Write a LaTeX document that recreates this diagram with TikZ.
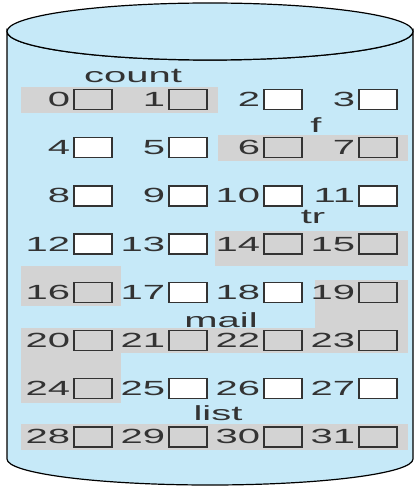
\documentclass[tikz,border=0pt]{standalone}
\usepackage{fontspec}
\setmainfont[FakeStretch=1.95]{Liberation Sans}
\definecolor{cylblue}{RGB}{198,233,248}
\definecolor{blkgray}{RGB}{211,211,211}
\definecolor{ink}{RGB}{51,51,51}
\tikzset{
  blk/.style={draw=ink, line width=1.3pt, minimum width=38pt, minimum height=20pt, inner sep=0pt},
  num/.style={text=ink, inner sep=0pt, font=\fontsize{20.5}{24}\selectfont},
  lbl/.style={text=ink, inner sep=0pt, font=\fontsize{20.5}{24}\selectfont, anchor=base},
  cyl/.style={draw=black, line width=1.2pt, fill=cylblue}
}
\begin{document}
\begin{tikzpicture}[x=1pt,y=-1pt]
\useasboundingbox (0,0) rectangle (416,486);
% cylinder body
\path[cyl] (7,31.5) -- (7,459) arc[start angle=180, end angle=0, x radius=203, y radius=26]
  -- (413,31.5) arc[start angle=0, end angle=180, x radius=203, y radius=28.5] -- cycle;
\path[cyl] (210,31.5) ellipse[x radius=203, y radius=28.5];
% allocated regions
\fill[blkgray] (21,87) rectangle (218,113);      % count
\fill[blkgray] (218,135) rectangle (408,161);    % f
\fill[blkgray] (215,230.5) rectangle (408,266);  % tr
\fill[blkgray] (21,266) rectangle (121,305.5);
\fill[blkgray] (315,279.5) rectangle (408,328);  % mail
\fill[blkgray] (21,328) rectangle (408,353);
\fill[blkgray] (21,353) rectangle (121,403);
\fill[blkgray] (21,424) rectangle (408,450);     % list
% blocks
\foreach \i in {2,3,4,5,8,9,10,11,12,13,17,18,25,26,27} {
  \pgfmathtruncatemacro\c{mod(\i,4)}
  \pgfmathtruncatemacro\r{\i/4}
  \node[blk, fill=white] (b\i) at ({93+95*\c},{99.5+48.2*\r}) {};
  \node[num, anchor=east] (n\i) at ([xshift=-3pt]b\i.west) {\i};
}
\foreach \i in {0,1,6,7,14,15,16,19,20,21,22,23,24,28,29,30,31} {
  \pgfmathtruncatemacro\c{mod(\i,4)}
  \pgfmathtruncatemacro\r{\i/4}
  \node[blk, fill=blkgray] (b\i) at ({93+95*\c},{99.5+48.2*\r}) {};
  \node[num, anchor=east] (n\i) at ([xshift=-3pt]b\i.west) {\i};
}
% file names
\node[lbl] (count) at (133,83) {count};
\node[lbl] (f) at (316,133) {f};
\node[lbl] (tr) at (313,223) {tr};
\node[lbl] (mail) at (221,327) {mail};
\node[lbl] (list) at (218,420) {list};
\end{tikzpicture}
\end{document}
